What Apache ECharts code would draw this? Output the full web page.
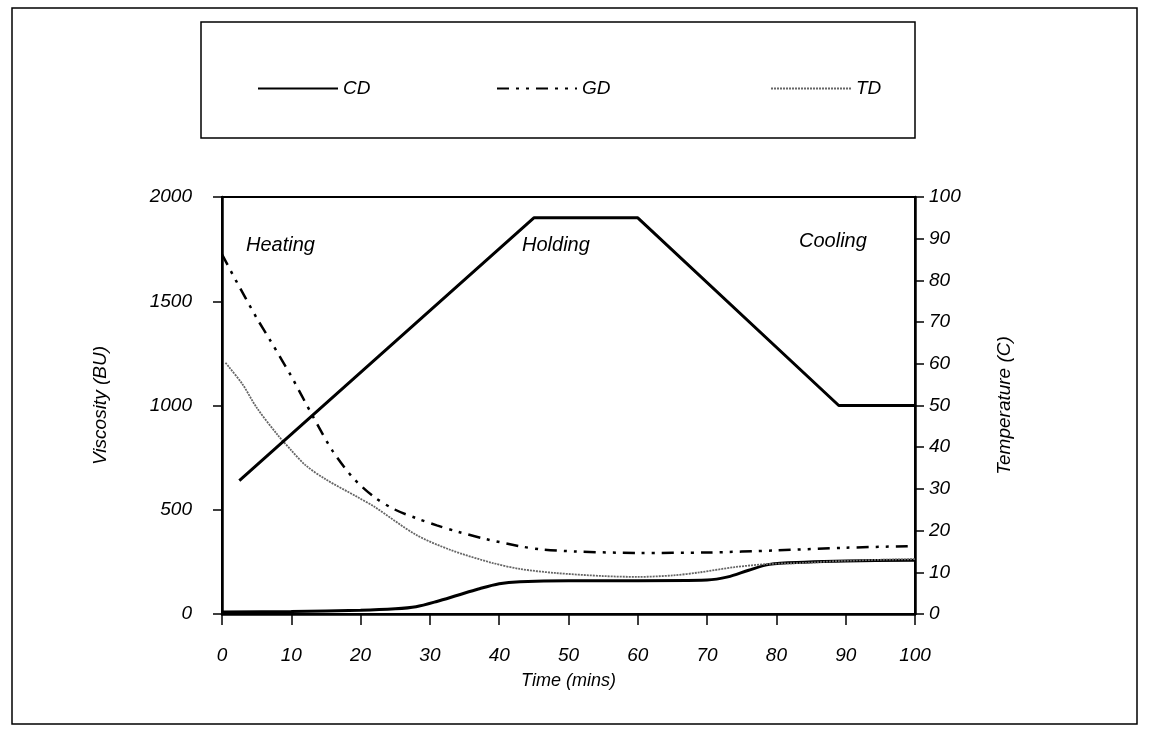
<!DOCTYPE html>
<html>
<head>
<meta charset="utf-8">
<script src="https://cdn.jsdelivr.net/npm/echarts@6/dist/echarts.min.js"></script>
<style>
  html, body { margin: 0; padding: 0; background: #fff; }
  #container { width: 1149px; height: 744px; }
</style>
</head>
<body>
<div id="container"></div>
<script>
var dom = document.getElementById('container');
var myChart = echarts.init(dom, null, { renderer: 'canvas' });

// time (mins), viscosity (BU)
const cdData = [[0, 10], [10, 12], [20, 18], [25, 25], [28, 35], [31, 60], [34, 90], [37, 120],
  [40, 145], [43, 155], [50, 160], [60, 160], [70, 163], [73, 178], [76, 210], [79, 238],
  [84, 248], [90, 254], [100, 258]];
const gdData = [[0, 1725], [2, 1600], [5, 1420], [7, 1310], [10, 1140], [13, 955], [16, 780],
  [19, 650], [22, 560], [25, 500], [28, 460], [31, 425], [34, 395], [38, 360], [43, 325],
  [46, 310], [51, 300], [60, 293], [70, 295], [80, 305], [90, 318], [100, 326]];
const tdData = [[0.5, 1205], [1, 1185], [3, 1100], [5, 990], [8, 860], [10, 785], [12, 715],
  [15, 645], [19.5, 562], [22, 514], [28, 380], [33, 307], [39, 245], [43, 216], [48, 197],
  [55, 182], [60, 178], [65, 185], [69, 200], [74, 225], [79, 240], [84, 245], [89, 254],
  [95, 260], [100, 263]];
// temperature profile (C)
const tempData = [[2.5, 32], [45, 95], [60, 95], [89, 50], [100, 50]];

const legendNames = ['CD', 'GD', 'TD'];
const legendLeft = [252, 491, 765];

const phaseLabels = [
  { text: 'Heating', x: 246, y: 235 },
  { text: 'Holding', x: 522, y: 235 },
  { text: 'Cooling', x: 799, y: 231 }
];

const font = 'Liberation Sans, Arial, sans-serif';
const txt = (size) => ({ fontFamily: font, fontStyle: 'italic', fontSize: size, color: '#000' });

var option = {
  animation: false,
  backgroundColor: '#fff',
  grid: {
    left: 222, right: 234, top: 197, bottom: 130,
    show: true, borderColor: '#000', borderWidth: 2
  },
  legend: legendNames.map((n, i) => ({
    data: [n],
    left: legendLeft[i], top: 74,
    itemWidth: 80, itemHeight: 14,
    itemStyle: { opacity: 0 },
    textStyle: txt(19)
  })),
  graphic: [
    { type: 'rect', shape: { x: 12, y: 8, width: 1125, height: 716 },
      style: { fill: 'none', stroke: '#000', lineWidth: 1.5 } },
    { type: 'rect', shape: { x: 201, y: 22, width: 714, height: 116 },
      style: { fill: 'none', stroke: '#000', lineWidth: 1.5 } }
  ].concat(phaseLabels.map(p => ({
    type: 'text', left: p.x, top: p.y,
    style: { text: p.text, fontFamily: font, fontStyle: 'italic', fontSize: 20, fill: '#000' }
  }))),
  xAxis: {
    type: 'value', min: 0, max: 100, interval: 10,
    name: 'Time (mins)', nameLocation: 'middle', nameGap: 58,
    nameTextStyle: txt(18),
    axisLine: { lineStyle: { color: '#000', width: 2.5 } },
    axisTick: { inside: false, length: 11, lineStyle: { color: '#000', width: 1.5 } },
    axisLabel: Object.assign({ margin: 32 }, txt(19)),
    splitLine: { show: false }
  },
  yAxis: [
    {
      type: 'value', min: 0, max: 2000, interval: 500,
      name: 'Viscosity (BU)', nameLocation: 'middle', nameGap: 112,
      nameTextStyle: txt(19),
      axisLine: { show: true, lineStyle: { color: '#000', width: 2.5 } },
      axisTick: { show: true, length: 9, lineStyle: { color: '#000', width: 1.5 } },
      axisLabel: Object.assign({ margin: 30, formatter: v => String(v) }, txt(19)),
      splitLine: { show: false }
    },
    {
      type: 'value', min: 0, max: 100, interval: 10, position: 'right',
      name: 'Temperature (C)', nameLocation: 'middle', nameGap: 80, nameRotate: 90,
      nameTextStyle: txt(19),
      axisLine: { show: true, lineStyle: { color: '#000', width: 2.5 } },
      axisTick: { show: true, length: 9, lineStyle: { color: '#000', width: 1.5 } },
      axisLabel: Object.assign({ margin: 14 }, txt(19)),
      splitLine: { show: false }
    }
  ],
  series: [
    {
      name: 'CD', type: 'line', data: cdData, symbol: 'none', smooth: 0.3,
      lineStyle: { color: '#000', width: 3 }, itemStyle: { color: '#000' }
    },
    {
      name: 'GD', type: 'line', data: gdData, symbol: 'none', smooth: 0.3,
      lineStyle: { color: '#000', width: 2.5, type: [12, 7, 3, 7, 3, 7] }, itemStyle: { color: '#000' }
    },
    {
      name: 'TD', type: 'line', data: tdData, symbol: 'none', smooth: 0.3,
      lineStyle: { color: '#666', width: 1.8, type: [2, 1] }, itemStyle: { color: '#666' }
    },
    {
      name: 'Temperature', type: 'line', yAxisIndex: 1, data: tempData, symbol: 'none',
      lineStyle: { color: '#000', width: 3 }, itemStyle: { color: '#000' }
    }
  ]
};

myChart.setOption(option);
window.addEventListener('resize', myChart.resize);
</script>
</body>
</html>
